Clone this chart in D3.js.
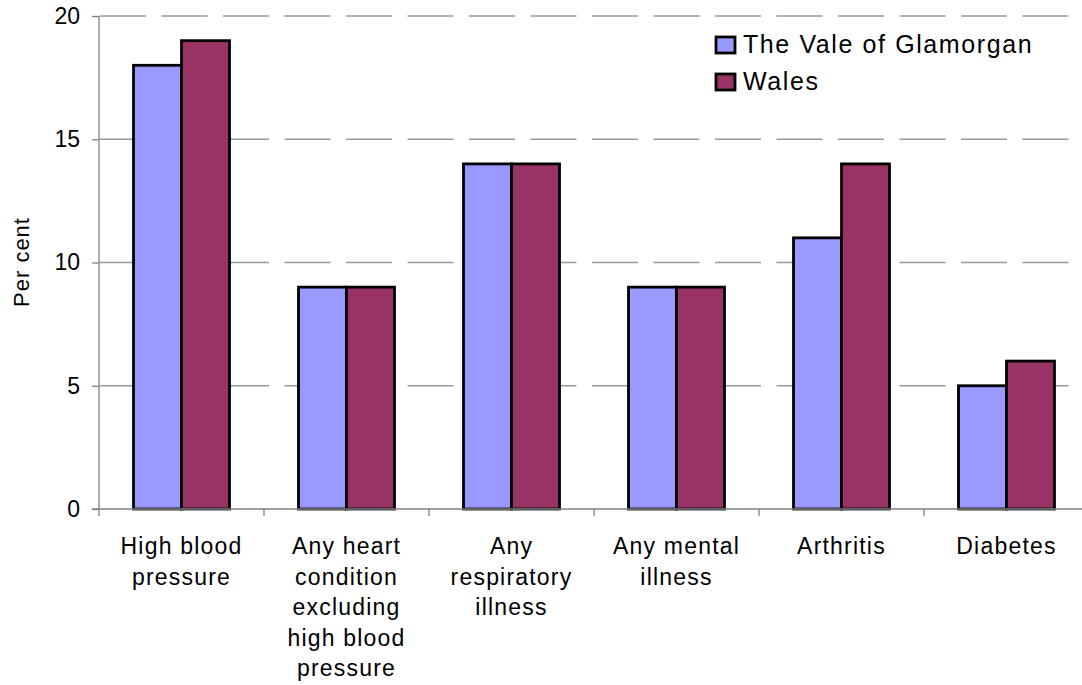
<!DOCTYPE html>
<html>
<head>
<meta charset="utf-8">
<script src="https://cdn.jsdelivr.net/npm/d3@7"></script>
<style>
  body { margin: 0; background: #fff; }
  svg text { font-family: Arial, "Liberation Sans", sans-serif; fill: #000; }
</style>
</head>
<body>
<svg id="chart" width="1082" height="685"></svg>
<script>
// data
const categories = [
  ["High blood", "pressure"],
  ["Any heart", "condition", "excluding", "high blood", "pressure"],
  ["Any", "respiratory", "illness"],
  ["Any mental", "illness"],
  ["Arthritis"],
  ["Diabetes"]
];
const seriesNames = ["The Vale of Glamorgan", "Wales"];
const valeValues = [18, 9, 14, 9, 11, 5];
const walesValues = [19, 9, 14, 9, 14, 6];
const yTicks = [0, 5, 10, 15, 20];
const colors = ["#9999ff", "#993366"];

const svg = d3.select("#chart");
const plotLeft = 99, plotRight = 1089, plotTop = 16, plotBottom = 509;

const keys = categories.map((c, i) => i);
const x0 = d3.scaleBand().domain(keys).range([plotLeft, plotRight]);
const x1 = d3.scaleBand().domain([0, 1]).range([34.5, 130.5]);
const y = d3.scaleLinear().domain([0, 20]).range([plotBottom, plotTop]);

// gridlines
svg.append("g")
  .selectAll("line")
  .data(yTicks.filter(t => t > 0))
  .join("line")
  .attr("x1", plotLeft + 1).attr("x2", plotRight)
  .attr("y1", d => y(d)).attr("y2", d => y(d))
  .attr("stroke", "#999")
  .attr("stroke-width", 1.3)
  .attr("stroke-dasharray", "46,15.5");

// bars
const rows = keys.map(i => ({ i, vals: [valeValues[i], walesValues[i]] }));
svg.append("g")
  .selectAll("g")
  .data(rows)
  .join("g")
  .attr("transform", d => `translate(${x0(d.i)},0)`)
  .selectAll("rect")
  .data(d => d.vals.map((v, s) => ({ v, s })))
  .join("rect")
  .attr("x", d => x1(d.s))
  .attr("width", x1.bandwidth())
  .attr("y", d => y(d.v))
  .attr("height", d => y(0) - y(d.v))
  .attr("fill", d => colors[d.s])
  .attr("stroke", "#000")
  .attr("stroke-width", 2.8);

// y axis
const yAxis = svg.append("g")
  .attr("transform", `translate(${plotLeft},0)`)
  .call(d3.axisLeft(y).tickValues(yTicks).tickSize(7).tickPadding(12));
yAxis.select(".domain").attr("stroke", "#808080").attr("stroke-width", 1.3).attr("d", `M0,${plotTop}V${plotBottom}`);
yAxis.selectAll(".tick line").attr("stroke", "#808080").attr("stroke-width", 1.3);
yAxis.selectAll(".tick text").attr("font-size", 23).attr("font-family", "Arial, 'Liberation Sans', sans-serif");

// x axis
const xAxis = svg.append("g")
  .attr("transform", `translate(0,${plotBottom})`)
  .call(d3.axisBottom(x0).tickSize(0).tickFormat(""));
xAxis.select(".domain").attr("stroke", "#808080").attr("stroke-width", 1.3).attr("d", `M${plotLeft - 7},0H${plotRight}`);
xAxis.selectAll(".tick line").remove();
svg.append("g")
  .selectAll("line")
  .data(keys)
  .join("line")
  .attr("x1", d => x0(d)).attr("x2", d => x0(d))
  .attr("y1", plotBottom).attr("y2", plotBottom + 7)
  .attr("stroke", "#808080").attr("stroke-width", 1.3);

// category labels
svg.append("g")
  .selectAll("text")
  .data(rows)
  .join("text")
  .attr("text-anchor", "middle")
  .attr("font-size", 23)
  .attr("letter-spacing", 1.2)
  .each(function (d) {
    const t = d3.select(this);
    categories[d.i].forEach((line, k) => {
      t.append("tspan")
        .attr("x", x0(d.i) + x0.bandwidth() / 2)
        .attr("y", 554 + k * 30.5)
        .text(line);
    });
  });

// y title
svg.append("text")
  .attr("transform", "translate(29,262) rotate(-90)")
  .attr("text-anchor", "middle")
  .attr("font-size", 22)
  .attr("letter-spacing", 1)
  .text("Per cent");

// legend
const legend = svg.append("g").selectAll("g")
  .data(seriesNames)
  .join("g")
  .attr("transform", (d, i) => `translate(716,${37 + i * 37})`);
legend.append("rect")
  .attr("width", 19).attr("height", 16)
  .attr("fill", (d, i) => colors[i])
  .attr("stroke", "#000").attr("stroke-width", 2.8);
legend.append("text")
  .attr("x", 27).attr("y", 16)
  .attr("font-size", 25)
  .attr("letter-spacing", 1.6)
  .text(d => d);
</script>
</body>
</html>
